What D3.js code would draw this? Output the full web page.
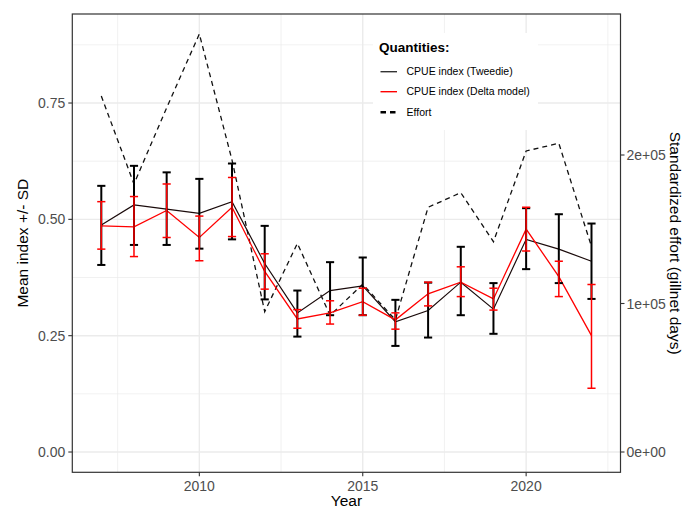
<!DOCTYPE html>
<html>
<head>
<meta charset="utf-8">
<script src="https://cdn.jsdelivr.net/npm/d3@7"></script>
<style>
  html, body { margin: 0; padding: 0; background: #fff; }
  svg { display: block; font-family: "Liberation Sans", Arial, sans-serif; }
</style>
</head>
<body>
<svg id="chart" width="684" height="511"></svg>
<script>
const years = [2007,2008,2009,2010,2011,2012,2013,2014,2015,2016,2017,2018,2019,2020,2021,2022];
const tweedie   = [0.488,0.531,0.522,0.513,0.538,0.405,0.299,0.347,0.357,0.280,0.304,0.365,0.307,0.457,0.436,0.410];
const tweedieLo = [0.402,0.445,0.445,0.437,0.457,0.328,0.248,0.294,0.294,0.228,0.246,0.294,0.254,0.393,0.363,0.329];
const tweedieHi = [0.572,0.615,0.601,0.587,0.620,0.486,0.347,0.408,0.418,0.327,0.364,0.441,0.363,0.524,0.511,0.491];
const delta     = [0.486,0.484,0.519,0.461,0.526,0.388,0.286,0.299,0.323,0.284,0.340,0.365,0.329,0.479,0.377,0.250];
const deltaLo   = [0.436,0.420,0.461,0.411,0.463,0.350,0.266,0.275,0.294,0.264,0.314,0.334,0.305,0.432,0.334,0.137];
const deltaHi   = [0.538,0.549,0.576,0.507,0.590,0.426,0.306,0.325,0.352,0.299,0.365,0.398,0.352,0.526,0.410,0.360];
const effort    = [239700,180500,231800,281500,196600,94500,140500,92000,113000,89000,164800,174600,141600,202700,207900,138300];

const xTicks = [2010, 2015, 2020];
const xMinor = [2007.5, 2012.5, 2017.5, 2022.5];
const yTicks = [0, 0.25, 0.5, 0.75];
const yMinor = [0.125, 0.375, 0.625, 0.875];
const effortTicks = [0, 100000, 200000];
const effortTickLabels = ["0e+00", "1e+05", "2e+05"];
const legendTitle = "Quantities:";
const legendLabels = ["CPUE index (Tweedie)", "CPUE index (Delta model)", "Effort"];

const L = 72.3, R = 620.5, T = 14, B = 472.3;
const svg = d3.select("#chart");

const capW = 0.25;
const xlo = d3.min(years) - capW/2, xhi = d3.max(years) + capW/2;
const xexp = (xhi - xlo) * 0.05;
const x = d3.scaleLinear().domain([xlo - xexp, xhi + xexp]).range([L, R]);
const y = d3.scaleLinear().domain([-0.0436, 0.9413]).range([B, T]);
const y2 = d3.scaleLinear().domain([-13670, 294950]).range([B, T]);

const grid = svg.append("g");
grid.selectAll(".ymin").data(yMinor).join("line")
  .attr("x1", L).attr("x2", R).attr("y1", d => y(d)).attr("y2", d => y(d))
  .attr("stroke", "#ebebeb").attr("stroke-width", 0.7);
grid.selectAll(".xmin").data(xMinor).join("line")
  .attr("y1", T).attr("y2", B).attr("x1", d => x(d)).attr("x2", d => x(d))
  .attr("stroke", "#ebebeb").attr("stroke-width", 0.7);
grid.selectAll(".ymaj").data(yTicks).join("line")
  .attr("x1", L).attr("x2", R).attr("y1", d => y(d)).attr("y2", d => y(d))
  .attr("stroke", "#ebebeb").attr("stroke-width", 1.4);
grid.selectAll(".xmaj").data(xTicks).join("line")
  .attr("y1", T).attr("y2", B).attr("x1", d => x(d)).attr("x2", d => x(d))
  .attr("stroke", "#ebebeb").attr("stroke-width", 1.4);

const idx = d3.range(years.length);

// effort dashed line
svg.append("path")
  .attr("d", d3.line().x(i => x(years[i])).y(i => y2(effort[i]))(idx))
  .attr("fill", "none").attr("stroke", "#111").attr("stroke-width", 1.3)
  .attr("stroke-dasharray", "5,4");

// lines
svg.append("path")
  .attr("d", d3.line().x(i => x(years[i])).y(i => y(tweedie[i]))(idx))
  .attr("fill", "none").attr("stroke", "#1a0a0a").attr("stroke-width", 1.2);
svg.append("path")
  .attr("d", d3.line().x(i => x(years[i])).y(i => y(delta[i]))(idx))
  .attr("fill", "none").attr("stroke", "#ff0000").attr("stroke-width", 1.3);

function errorbars(lo, hi, color, w) {
  const g = svg.append("g").attr("stroke", color).attr("stroke-width", w).attr("fill", "none");
  g.selectAll(".v").data(idx).join("line")
    .attr("x1", i => x(years[i])).attr("x2", i => x(years[i]))
    .attr("y1", i => y(lo[i])).attr("y2", i => y(hi[i]));
  g.selectAll(".t").data(idx).join("line")
    .attr("x1", i => x(years[i] - capW/2)).attr("x2", i => x(years[i] + capW/2))
    .attr("y1", i => y(hi[i])).attr("y2", i => y(hi[i]));
  g.selectAll(".b").data(idx).join("line")
    .attr("x1", i => x(years[i] - capW/2)).attr("x2", i => x(years[i] + capW/2))
    .attr("y1", i => y(lo[i])).attr("y2", i => y(lo[i]));
}
errorbars(tweedieLo, tweedieHi, "#000", 2);
errorbars(deltaLo, deltaHi, "#ff0000", 1.5);

// legend
const lg = svg.append("g");
lg.append("rect").attr("x", 373).attr("y", 33).attr("width", 165).attr("height", 97).attr("fill", "#fff");
lg.append("text").attr("x", 379).attr("y", 52).attr("font-size", 13.5).attr("font-weight", "bold")
  .attr("fill", "#000").text(legendTitle);
const itemY = [71.7, 91.7, 112.2];
const keyColors = ["#333", "#ff0000", "#000"];
legendLabels.forEach((lab, i) => {
  const ln = lg.append("line").attr("x1", 380.5).attr("x2", 397).attr("y1", itemY[i]).attr("y2", itemY[i])
    .attr("stroke", keyColors[i]).attr("stroke-width", i === 2 ? 2.4 : 1.4);
  if (i === 2) ln.attr("stroke-dasharray", "5.5,4");
  lg.append("text").attr("x", 406.5).attr("y", itemY[i] + 3.6).attr("font-size", 10.5)
    .attr("fill", "#000").text(lab);
});

// panel border
svg.append("rect").attr("x", L).attr("y", T).attr("width", R - L).attr("height", B - T)
  .attr("fill", "none").attr("stroke", "#333").attr("stroke-width", 1.2);

// axes
const tickCol = "#333", labCol = "#4d4d4d";
const ax = svg.append("g");
ax.selectAll(".yt").data(yTicks).join("line")
  .attr("x1", L - 4).attr("x2", L).attr("y1", d => y(d)).attr("y2", d => y(d))
  .attr("stroke", tickCol).attr("stroke-width", 1.1);
ax.selectAll(".yl").data(yTicks).join("text")
  .attr("x", L - 7).attr("y", d => y(d) + 5).attr("text-anchor", "end")
  .attr("font-size", 14).attr("fill", labCol).text(d => d3.format(".2f")(d));
ax.selectAll(".xt").data(xTicks).join("line")
  .attr("y1", B).attr("y2", B + 4).attr("x1", d => x(d)).attr("x2", d => x(d))
  .attr("stroke", tickCol).attr("stroke-width", 1.1);
ax.selectAll(".xl").data(xTicks).join("text")
  .attr("x", d => x(d)).attr("y", B + 18.5).attr("text-anchor", "middle")
  .attr("font-size", 14).attr("fill", labCol).text(d => d);
ax.selectAll(".rt").data(effortTicks).join("line")
  .attr("x1", R).attr("x2", R + 4).attr("y1", d => y2(d)).attr("y2", d => y2(d))
  .attr("stroke", tickCol).attr("stroke-width", 1.1);
ax.selectAll(".rl").data(effortTicks).join("text")
  .attr("x", R + 6).attr("y", d => y2(d) + 5).attr("text-anchor", "start")
  .attr("font-size", 14).attr("fill", labCol).text((d, i) => effortTickLabels[i]);

svg.append("text").attr("x", (L + R) / 2).attr("y", 506).attr("text-anchor", "middle")
  .attr("font-size", 15.5).attr("fill", "#000").text("Year");
svg.append("text").attr("transform", `translate(28,${(T + B) / 2}) rotate(-90)`)
  .attr("text-anchor", "middle").attr("font-size", 15.5).attr("fill", "#000").text("Mean index +/- SD");
svg.append("text").attr("transform", `translate(670,${(T + B) / 2}) rotate(90)`)
  .attr("text-anchor", "middle").attr("font-size", 15.5).attr("fill", "#000").text("Standardized effort (gillnet days)");
</script>
</body>
</html>
